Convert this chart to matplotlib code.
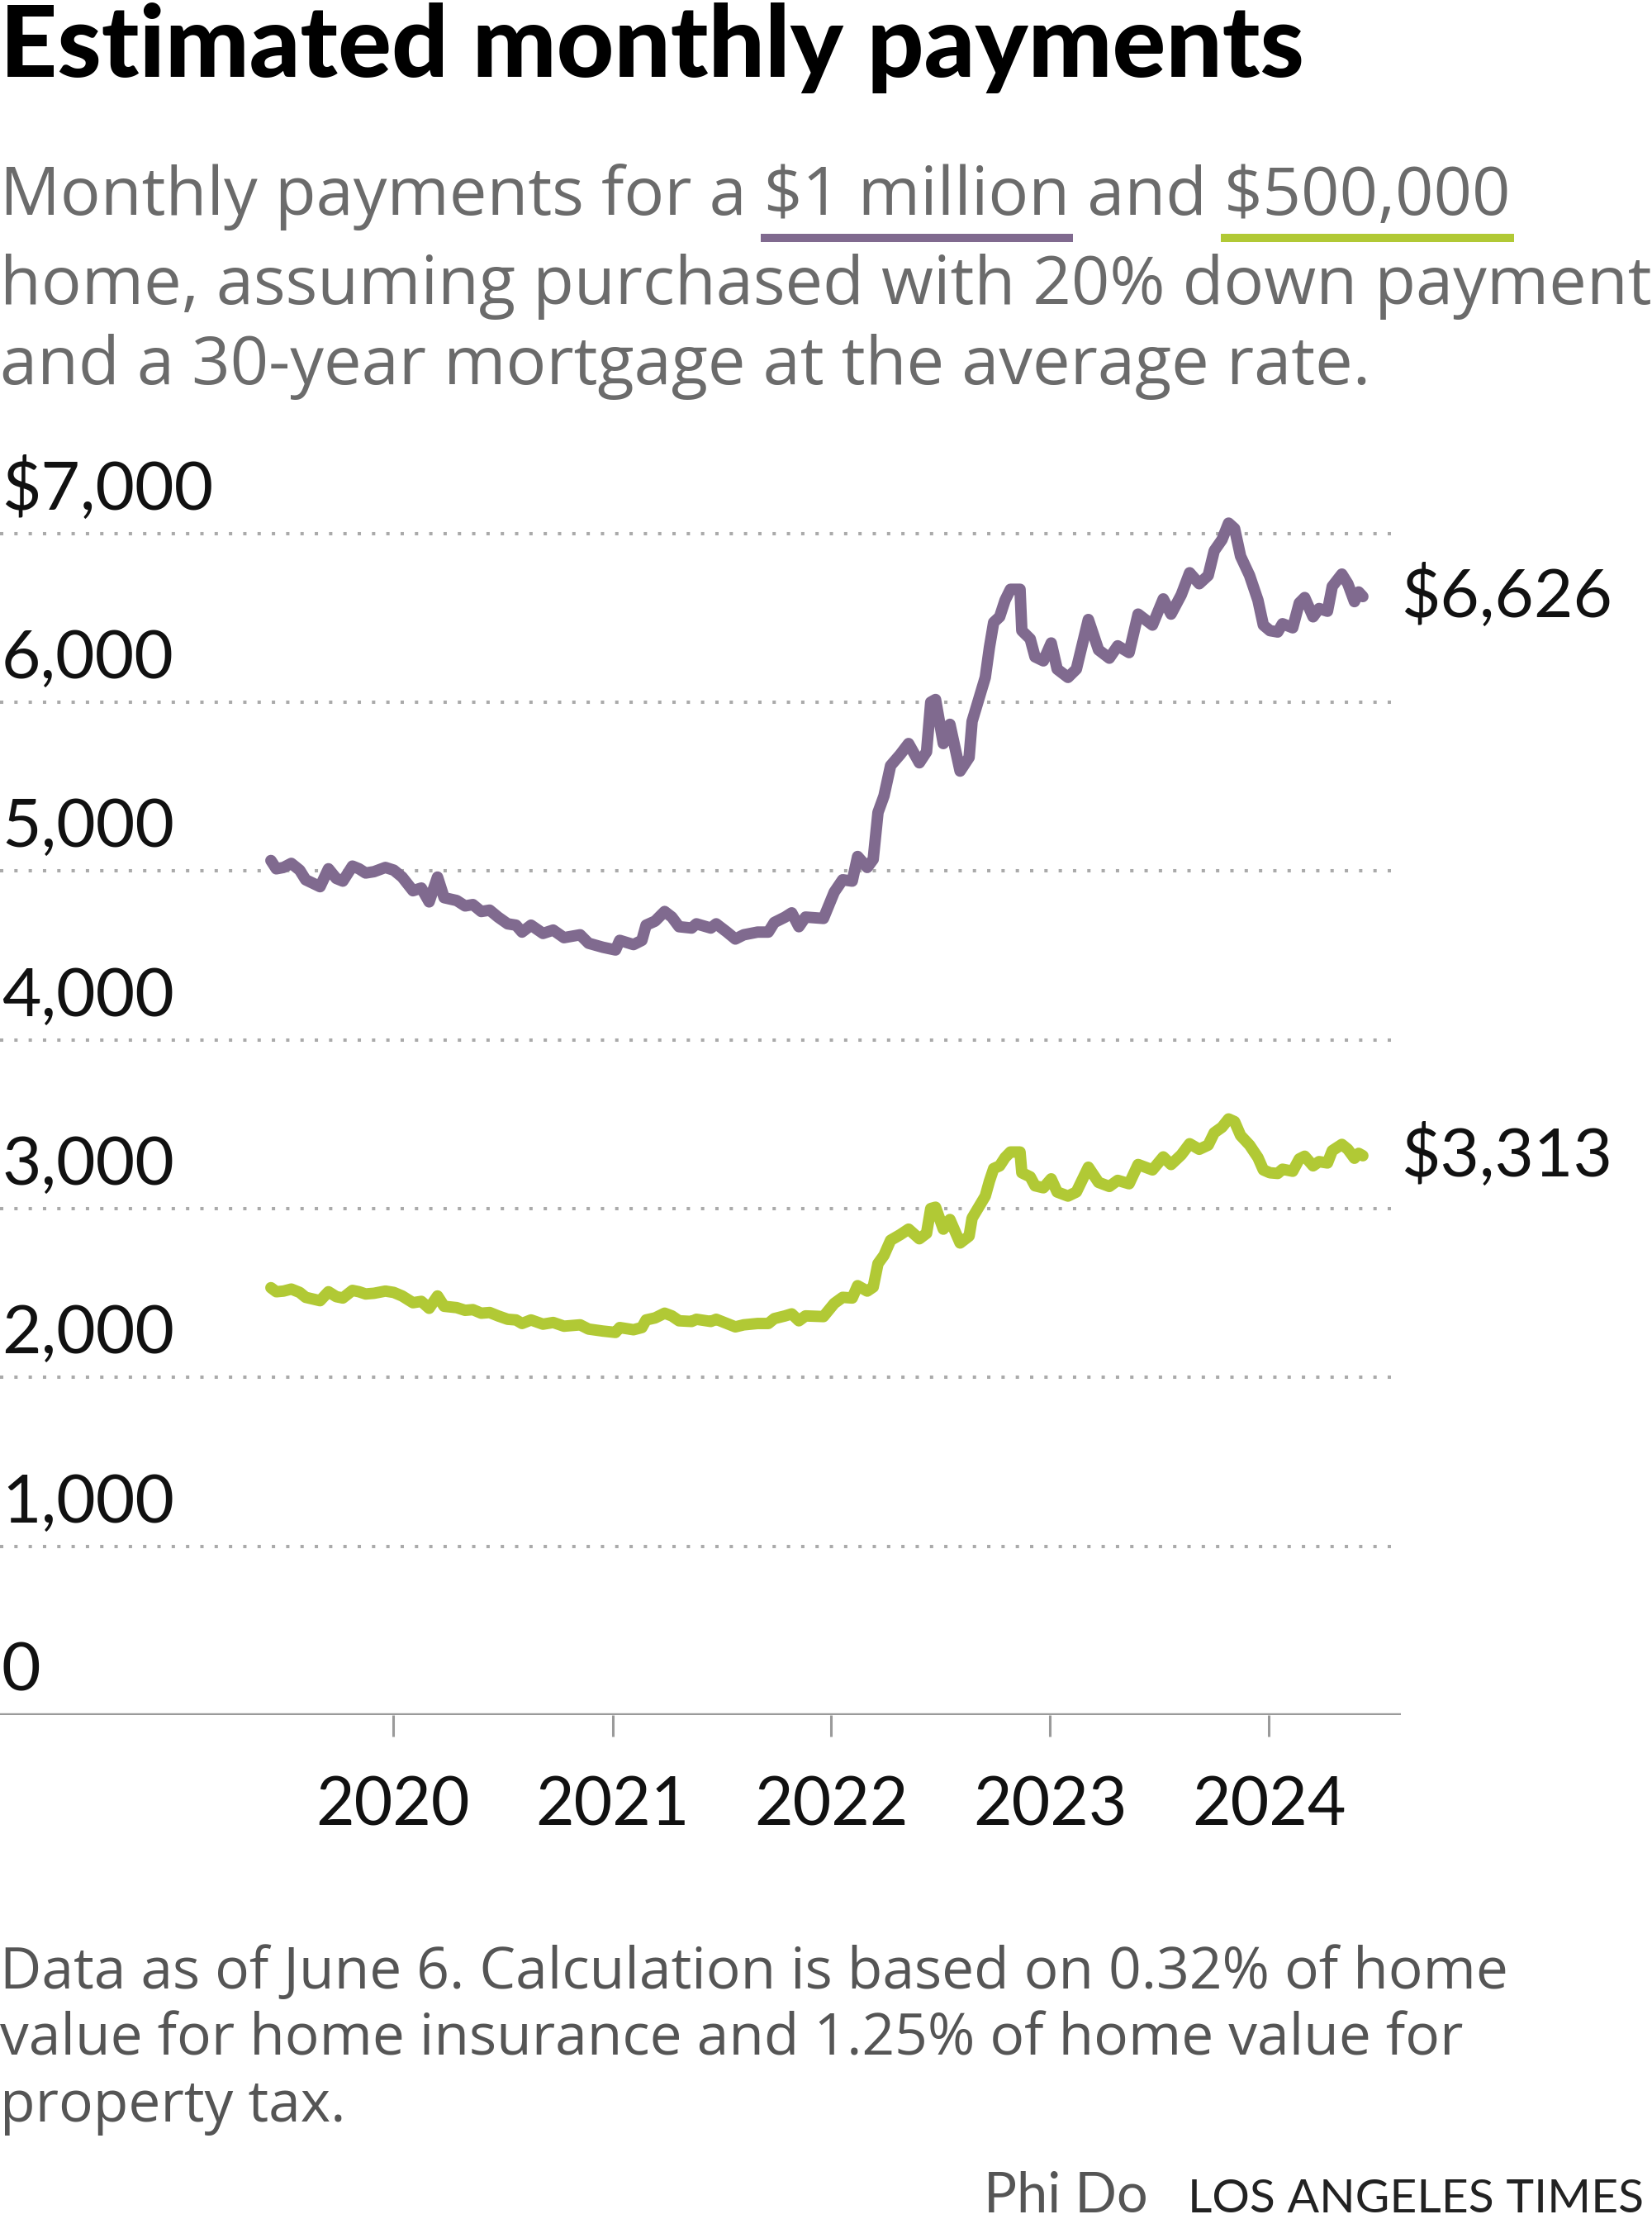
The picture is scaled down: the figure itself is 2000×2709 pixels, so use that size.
import datetime as dt
import matplotlib
matplotlib.use("Agg")
import matplotlib.pyplot as plt
import matplotlib.dates as mdates
from matplotlib.patches import Rectangle
from matplotlib.transforms import blended_transform_factory

plt.rcParams["font.family"] = ["Lato", "DejaVu Sans"]
plt.rcParams["text.parse_math"] = False

# weekly-ish readings (monthly payment, $)
dates = [
    "2019-06-11", "2019-06-20", "2019-07-02", "2019-07-15", "2019-07-29", "2019-08-08",
    "2019-09-01", "2019-09-15", "2019-09-28", "2019-10-09", "2019-10-25", "2019-11-05",
    "2019-11-16", "2019-11-30", "2019-12-19",
    "2020-01-02", "2020-01-16", "2020-02-03", "2020-02-17", "2020-03-01", "2020-03-15",
    "2020-03-26", "2020-04-16", "2020-04-30", "2020-05-13", "2020-05-27", "2020-06-10",
    "2020-06-24", "2020-07-10", "2020-07-24", "2020-08-03", "2020-08-18", "2020-09-07",
    "2020-09-24", "2020-10-12", "2020-11-08", "2020-11-22", "2020-12-16",
    "2021-01-06", "2021-01-13", "2021-02-05", "2021-02-19", "2021-02-26", "2021-03-13",
    "2021-03-29", "2021-04-10", "2021-04-22", "2021-05-13", "2021-05-21", "2021-06-14",
    "2021-06-23", "2021-07-11", "2021-07-25", "2021-08-08", "2021-08-31", "2021-09-18",
    "2021-09-28", "2021-10-16", "2021-10-27", "2021-11-08", "2021-11-19", "2021-12-19",
    "2022-01-06", "2022-01-20", "2022-02-05", "2022-02-14", "2022-03-02", "2022-03-12",
    "2022-03-20", "2022-03-30", "2022-04-10", "2022-04-26", "2022-05-10", "2022-05-28",
    "2022-06-09", "2022-06-16", "2022-06-24", "2022-07-07", "2022-07-18", "2022-07-25",
    "2022-08-04", "2022-08-19", "2022-08-24", "2022-09-04", "2022-09-15", "2022-09-22",
    "2022-09-29", "2022-10-09", "2022-10-18", "2022-10-27", "2022-11-12", "2022-11-15",
    "2022-11-29", "2022-12-07", "2022-12-21",
    "2023-01-03", "2023-01-13", "2023-01-31", "2023-02-14", "2023-03-06", "2023-03-23",
    "2023-04-10", "2023-04-24", "2023-05-13", "2023-05-28", "2023-06-21", "2023-07-09",
    "2023-07-22", "2023-08-08", "2023-08-22", "2023-09-07", "2023-09-22", "2023-10-02",
    "2023-10-15", "2023-10-26", "2023-11-05", "2023-11-15", "2023-11-30", "2023-12-14",
    "2023-12-23",
    "2024-01-03", "2024-01-16", "2024-01-24", "2024-02-10", "2024-02-21", "2024-03-01",
    "2024-03-15", "2024-03-25", "2024-04-08", "2024-04-16", "2024-05-02", "2024-05-12",
    "2024-05-23", "2024-05-30", "2024-06-06",
]

pay_1m = [
    5062, 5013, 5021, 5045, 5005, 4948,
    4907, 5013, 4956, 4940, 5029, 5013,
    4988, 4996, 5021,
    5005, 4964, 4883, 4899, 4817, 4964,
    4842, 4825, 4793, 4801, 4760, 4768,
    4727, 4687, 4679, 4638, 4679, 4630,
    4650, 4605, 4622, 4572, 4548,
    4532, 4589, 4564, 4589, 4679, 4703,
    4760, 4727, 4670, 4662, 4687, 4662,
    4687, 4638, 4597, 4622, 4638, 4638,
    4695, 4727, 4752, 4670, 4727, 4719,
    4875, 4948, 4940, 5086, 5021, 5069,
    5347, 5445, 5624, 5690, 5755, 5641,
    5706, 6000, 6016, 5755, 5869, 5755,
    5592, 5673, 5886, 6016, 6147, 6326,
    6473, 6506, 6604, 6669, 6669, 6424,
    6375, 6269, 6245,
    6351, 6196, 6147, 6196, 6490, 6310,
    6261, 6334, 6294, 6522, 6457, 6612,
    6522, 6636, 6767, 6702, 6751, 6897,
    6963, 7061, 7029, 6865, 6751, 6604,
    6457,
    6424, 6416, 6465, 6441, 6588, 6620,
    6506, 6555, 6539, 6686, 6759, 6702,
    6596, 6653, 6626,
]

pay_500k = [
    2531, 2507, 2511, 2523, 2503, 2474,
    2454, 2507, 2478, 2470, 2515, 2507,
    2494, 2498, 2511,
    2503, 2482, 2442, 2450, 2409, 2482,
    2421, 2413, 2397, 2401, 2380, 2384,
    2364, 2344, 2340, 2319, 2340, 2315,
    2325, 2303, 2311, 2286, 2274,
    2266, 2295, 2282, 2295, 2340, 2352,
    2380, 2364, 2335, 2331, 2344, 2331,
    2344, 2319, 2299, 2311, 2319, 2319,
    2348, 2364, 2376, 2335, 2364, 2360,
    2438, 2474, 2470, 2543, 2511, 2535,
    2674, 2723, 2812, 2845, 2878, 2821,
    2853, 3000, 3008, 2878, 2935, 2878,
    2796, 2837, 2943, 3008, 3074, 3163,
    3237, 3253, 3302, 3335, 3335, 3212,
    3188, 3135, 3123,
    3176, 3098, 3074, 3098, 3245, 3155,
    3131, 3167, 3147, 3261, 3229, 3306,
    3261, 3318, 3384, 3351, 3376, 3449,
    3482, 3531, 3515, 3433, 3376, 3302,
    3229,
    3212, 3208, 3233, 3221, 3294, 3310,
    3253, 3278, 3270, 3343, 3380, 3351,
    3298, 3327, 3313,
]

year_ticks = ["2020-01-01", "2021-01-01", "2022-01-01", "2023-01-01", "2024-01-01"]
year_labels = ["2020", "2021", "2022", "2023", "2024"]
y_ticks = [0, 1000, 2000, 3000, 4000, 5000, 6000, 7000]
y_labels = ["0", "1,000", "2,000", "3,000", "4,000", "5,000", "6,000", "$7,000"]

PURPLE = "#806a8f"
GREEN = "#b1c935"
GRID = "#aaaaaa"
AXIS = "#9a9a9a"
BODY_FONT = ["Open Sans", "DejaVu Sans"]

W, H = 2000, 2709
fig = plt.figure(figsize=(W / 100, H / 100), dpi=100)

# axes placement, in pixels measured on the reference
zero_px = 2075.8        # y of the 0 line, from top
px_per_dollar = 0.2043
ymax = 7300
ax_right = 1696
ax = fig.add_axes([0, (H - zero_px) / H, ax_right / W, ymax * px_per_dollar / H])

x_dates = [mdates.date2num(dt.date.fromisoformat(d)) for d in dates]
days_per_px = 1461 / 1060   # 2020 tick at x=476, 2024 tick at x=1536
x2020 = mdates.date2num(dt.date(2020, 1, 1))
ax.set_xlim(x2020 - 476 * days_per_px, x2020 + (ax_right - 476) * days_per_px)
ax.set_ylim(0, ymax)

for s in ax.spines.values():
    s.set_visible(False)

for v in y_ticks[1:]:
    ax.axhline(v, xmin=0, xmax=1684 / ax_right, color=GRID, lw=2.9,
               linestyle=(0, (1, 3.3)), dash_capstyle="butt", zorder=1)
ax.axhline(0, color=AXIS, lw=3.9, zorder=2)

lab_tr = blended_transform_factory(ax.transAxes, ax.transData)
for v, lab in zip(y_ticks, y_labels):
    ax.annotate(lab, xy=(0, v), xycoords=lab_tr, xytext=(2, 29),
                textcoords="offset pixels", ha="left", va="baseline",
                fontsize=59, color="#111111")

ax.set_yticks([])
ax.set_xticks([mdates.date2num(dt.date.fromisoformat(d)) for d in year_ticks])
ax.set_xticklabels(year_labels)
ax.tick_params(axis="x", length=19, width=2.2, color=AXIS, pad=34,
               labelsize=58, labelcolor="#111111")

ax.plot(x_dates, pay_1m, color=PURPLE, lw=10, solid_joinstyle="round",
        solid_capstyle="round", zorder=3, clip_on=False)
ax.plot(x_dates, pay_500k, color=GREEN, lw=10, solid_joinstyle="round",
        solid_capstyle="round", zorder=3, clip_on=False)

for series in (pay_1m, pay_500k):
    ax.annotate(f"${series[-1]:,}", xy=(x_dates[-1], series[-1]), xytext=(46, 0),
                textcoords="offset pixels", ha="left", va="center",
                fontsize=59, color="#111111")

# title and subtitle
fig.text(0, 1 - 93 / H, "Estimated monthly payments", fontsize=87,
         fontweight="black", color="#000000", ha="left", va="baseline")

sub_kw = dict(fontsize=58.5, color="#6b6b6b", ha="left", va="baseline", family=BODY_FONT)
line1 = "Monthly payments for a $1 million and $500,000"
fig.text(0, 1 - 260 / H, line1, **sub_kw)
fig.text(0, 1 - 368 / H, "home, assuming purchased with 20% down payment", **sub_kw)
fig.text(0, 1 - 465 / H, "and a 30-year mortgage at the average rate.", **sub_kw)

renderer = fig.canvas.get_renderer()


def ink_width(s):
    t = fig.text(0, 0, s, **sub_kw)
    w = t.get_window_extent(renderer).width
    t.remove()
    return w


for prefix, word, color in [("Monthly payments for a ", "$1 million", PURPLE),
                            ("Monthly payments for a $1 million and ", "$500,000", GREEN)]:
    right = ink_width(prefix + word)
    left = right - ink_width(word)
    fig.patches.append(Rectangle(((left - 4) / W, 1 - 293 / H), (right - left + 8) / W, 10 / H,
                                 transform=fig.transFigure, color=color, lw=0))

# footer
foot_kw = dict(fontsize=50, color="#555555", ha="left", va="baseline", family=BODY_FONT)
fig.text(0, 1 - 2407 / H, "Data as of June 6. Calculation is based on 0.32% of home", **foot_kw)
fig.text(0, 1 - 2488 / H, "value for home insurance and 1.25% of home value for", **foot_kw)
fig.text(0, 1 - 2568 / H, "property tax.", **foot_kw)

fig.text(1390 / W, 1 - 2678 / H, "Phi Do", fontsize=48, color="#555555",
         ha="right", va="baseline")
fig.text(1990 / W, 1 - 2678 / H, "LOS ANGELES TIMES", fontsize=41, color="#222222",
         ha="right", va="baseline")

fig.savefig("out.png", dpi=100, facecolor="white")
